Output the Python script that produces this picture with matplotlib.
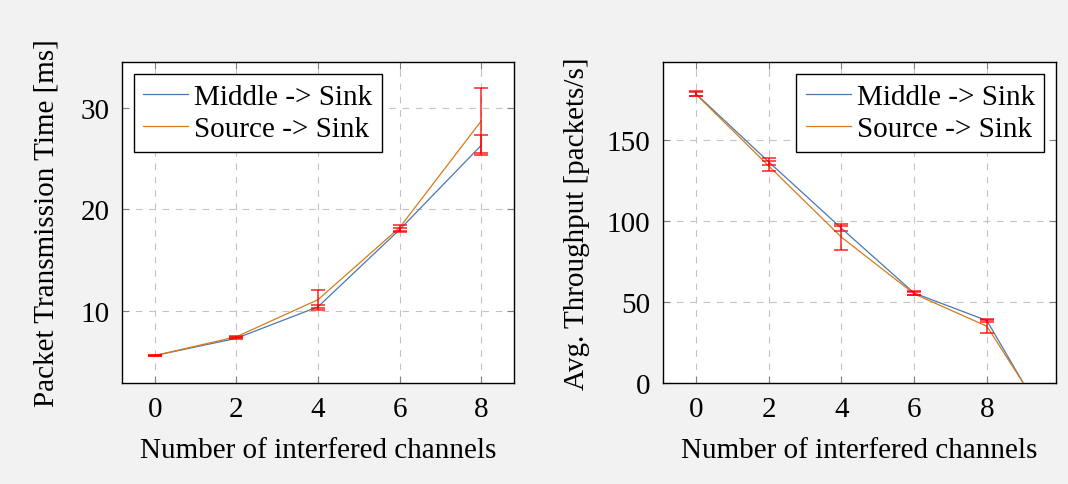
import matplotlib
matplotlib.use('Agg')
import matplotlib.pyplot as plt
import numpy as np

plt.rcParams['font.family'] = ['Liberation Serif', 'DejaVu Serif']
plt.rcParams['font.size'] = 21

# packet transmission time [ms]
channels_time = [0, 2, 4, 6, 8]
middle_time = [5.6, 7.3, 10.4, 18.0, 26.3]
middle_time_err = [0.05, 0.1, 0.15, 0.2, 1.0]
source_time = [5.6, 7.45, 11.1, 18.2, 28.7]
source_time_err = [0.05, 0.1, 1.0, 0.3, 3.2]

# average throughput [packets/s]
channels_tp = [0, 2, 4, 6, 8, 9]
middle_tp = [178.5, 136.5, 95.5, 55.5, 38.5, 0]
middle_tp_err = [1.4, 2.0, 1.5, 1.0, 1.0]
source_tp = [178.2, 134.0, 90.0, 55.0, 35.0, 0]
source_tp_err = [1.4, 3.0, 8.0, 1.0, 4.0]

labels = ['Middle -> Sink', 'Source -> Sink']
blue = '#4a78ad'
orange = '#d67a1a'
err_color = (1.0, 0.0, 0.0, 0.8)
fs = 21

fig = plt.figure(figsize=(10.68, 4.85), dpi=100)
fig.patch.set_facecolor('#f2f2f2')

ax1 = fig.add_axes([0.1142, 0.2082, 0.367, 0.6619])
ax2 = fig.add_axes([0.6208, 0.2082, 0.368, 0.6619])


def style_axis(ax):
    ax.set_facecolor('white')
    ax.grid(True, color='#c4c4c4', linestyle=(0, (6, 6)), linewidth=0.8)
    ax.set_axisbelow(True)
    ax.tick_params(direction='in', top=True, right=True, length=5,
                   width=0.8, color='#808080', pad=9, labelsize=fs)
    for s in ax.spines.values():
        s.set_linewidth(1.0)
        s.set_color('black')


def draw(ax, x, ym, em, ys, es):
    n = len(em)
    ax.plot(x, ym, color=blue, lw=0.9, label=labels[0], zorder=3)
    ax.plot(x, ys, color=orange, lw=0.9, label=labels[1], zorder=3)
    ax.errorbar(x[:n], ym[:n], yerr=em, fmt='none', ecolor=err_color,
                elinewidth=1.2, capsize=5, capthick=1.2, zorder=4)
    ax.errorbar(x[:n], ys[:n], yerr=es, fmt='none', ecolor=err_color,
                elinewidth=1.2, capsize=5, capthick=1.2, zorder=4)


def add_legend(ax, loc):
    ax.legend(loc=loc, fontsize=fs, frameon=True, fancybox=False,
              edgecolor='black', framealpha=1, borderaxespad=0.4,
              handlelength=1.55, handletextpad=0.2, borderpad=0.33,
              labelspacing=0.2)


draw(ax1, channels_time, middle_time, middle_time_err, source_time, source_time_err)
style_axis(ax1)
ax1.set_xlim(-0.8, 8.8)
ax1.set_ylim(2.9, 34.5)
ax1.set_xticks([0, 2, 4, 6, 8])
ax1.set_yticks([10, 20, 30])
ax1.set_xlabel('Number of interfered channels', fontsize=fs, labelpad=11)
ax1.set_ylabel('Packet Transmission Time [ms]', fontsize=fs, labelpad=15)
add_legend(ax1, 'upper left')

draw(ax2, channels_tp, middle_tp, middle_tp_err, source_tp, source_tp_err)
style_axis(ax2)
ax2.set_xlim(-0.9, 9.9)
ax2.set_ylim(0, 198)
ax2.set_xticks([0, 2, 4, 6, 8])
ax2.set_yticks([0, 50, 100, 150])
ax2.set_xlabel('Number of interfered channels', fontsize=fs, labelpad=11)
ax2.set_ylabel('Avg. Throughput [packets/s]', fontsize=fs, labelpad=12)
add_legend(ax2, 'upper right')

fig.savefig('out.png', dpi=100, facecolor=fig.get_facecolor())
